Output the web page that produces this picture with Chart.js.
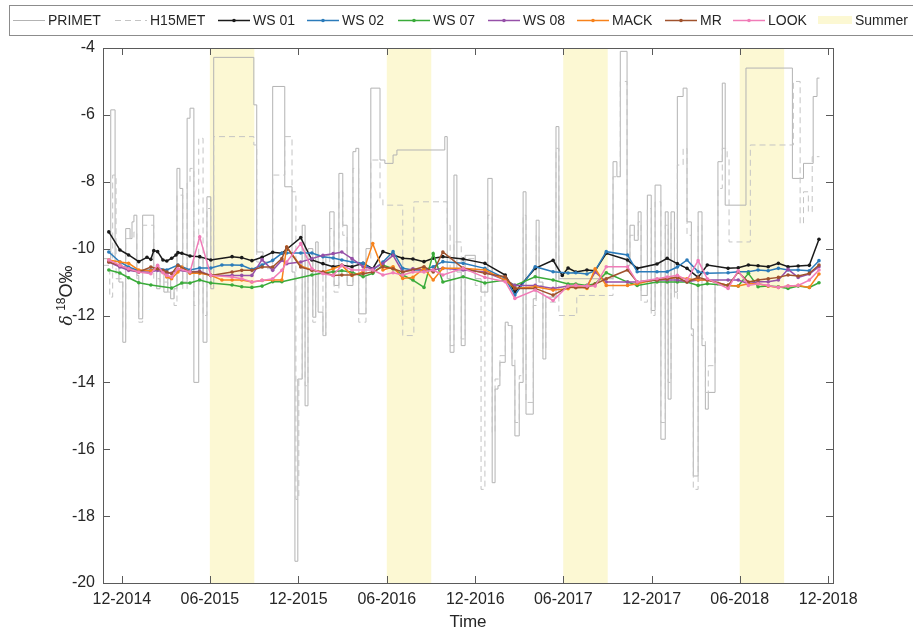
<!DOCTYPE html>
<html>
<head>
<meta charset="utf-8">
<title>Stream water isotopes</title>
<script src="https://cdn.jsdelivr.net/npm/chart.js@4.4.1/dist/chart.umd.min.js"></script>
<style>
  html, body { margin: 0; padding: 0; background: #fff; }
  #wrap { width: 913px; height: 633px; }
</style>
</head>
<body>
<div id="wrap"><canvas id="isoChart" width="913" height="633"></canvas></div>
<script>
// sampling dates shared by the stream stations (null = not sampled)
const sampleDates = [
  '2014-11-04','2014-11-27','2014-12-15','2015-01-05','2015-01-22','2015-01-30','2015-02-05','2015-02-13','2015-02-24','2015-03-04',
  '2015-03-14','2015-03-23','2015-03-27','2015-04-04','2015-04-21','2015-05-11','2015-06-03','2015-06-26','2015-07-17','2015-08-06',
  '2015-08-27','2015-09-17','2015-10-09','2015-10-28','2015-11-07','2015-12-06','2015-12-29','2016-01-21','2016-02-11','2016-02-29',
  '2016-03-21','2016-04-13','2016-05-03','2016-05-24','2016-06-14','2016-07-04','2016-07-25','2016-08-17','2016-09-05','2016-09-25',
  '2016-11-06','2016-12-21','2017-02-01','2017-02-21','2017-04-04','2017-05-11','2017-05-30','2017-06-11','2017-06-27','2017-07-20',
  '2017-08-06','2017-08-29','2017-10-12','2017-11-01','2017-12-12','2018-01-02','2018-01-23','2018-02-12','2018-03-07','2018-03-26',
  '2018-05-08','2018-05-29','2018-06-19','2018-07-09','2018-07-30','2018-08-20','2018-09-09','2018-09-30','2018-10-23','2018-11-12'
];

const ws01 = [
  -9.50,-10.04,-10.19,-10.39,-10.26,-10.32,-10.06,-10.09,-10.34,-10.37,
  -10.29,-10.19,-10.12,-10.14,-10.22,-10.24,-10.34,null,-10.24,-10.27,
  -10.36,-10.26,-10.11,-10.14,-10.02,-9.67,-10.34,-10.45,-10.54,-10.50,
  -10.54,-10.44,-10.60,-10.09,-10.19,-10.29,-10.31,-10.39,-10.29,-10.24,
  -10.31,-10.44,-10.79,-11.30,-10.59,-10.35,-10.80,-10.58,-10.70,-10.64,
  -10.66,-10.14,-10.34,-10.59,-10.46,-10.29,-10.45,-10.59,-10.86,-10.49,
  -10.59,-10.57,-10.49,-10.51,-10.54,-10.44,-10.54,-10.52,-10.50,-9.72
];
const ws02 = [
  -10.10,-10.40,-10.55,-10.66,null,-10.64,null,-10.58,null,-10.64,
  null,null,-10.49,null,-10.64,-10.58,-10.58,-10.49,-10.49,-10.50,
  -10.62,-10.49,-10.35,-10.14,-10.13,-10.13,-10.13,-10.24,-10.28,-10.34,
  -10.40,-10.44,-10.64,-10.40,-10.09,-10.59,-10.64,-10.64,-10.54,-10.39,
  -10.44,-10.59,-10.89,-11.39,-10.54,-10.69,null,-10.73,-10.72,-10.76,
  -10.66,-10.09,-10.19,-10.69,-10.69,-10.69,-10.55,-10.34,-10.69,-10.74,
  -10.72,-10.69,-10.69,-10.64,-10.66,-10.59,-10.64,-10.64,-10.66,-10.36
];
const ws07 = [
  -10.64,-10.73,-10.87,-11.02,null,-11.09,null,null,null,null,
  -11.18,null,null,-11.03,-11.03,-10.94,-11.03,null,-11.09,-11.14,
  -11.16,-11.12,-10.99,-10.99,null,null,-10.79,-10.73,-10.69,-10.66,
  -10.70,-10.84,-10.74,-10.49,-10.60,-10.79,-10.94,-11.16,-10.15,-11.00,
  -10.84,-11.03,-10.94,-11.10,-10.84,-10.94,null,-11.06,-11.06,-11.10,
  -11.05,-10.72,-11.00,-11.10,-11.00,-11.00,-11.00,-11.00,-11.10,-11.05,
  -11.10,-11.12,-10.74,-11.14,-11.12,-11.14,-11.19,-11.12,-11.16,-11.02
];
const ws08 = [
  -10.40,-10.55,-10.65,-10.70,null,-10.70,null,-10.65,null,-10.75,
  null,null,-10.65,null,-10.70,-10.68,-10.80,null,-10.80,-10.80,
  -10.80,-10.33,-10.65,-10.35,-10.45,-10.40,-10.30,-10.20,-10.15,-10.10,
  -10.30,-10.54,-10.60,-10.45,-10.20,-10.70,-10.60,-10.64,-10.64,-10.59,
  -10.64,-10.70,-10.94,-11.10,-11.10,-11.19,null,-11.12,-11.10,-11.12,
  -10.70,-11.00,-11.00,-11.00,-10.94,-10.94,-10.94,-10.99,-10.94,-10.94,
  -10.94,-10.94,-11.05,-10.99,-10.99,-10.94,-10.62,-10.86,-10.76,-10.54
];
const mack = [
  -10.34,-10.40,-10.44,-10.64,null,-10.66,null,-10.58,-10.70,-10.85,
  -10.90,null,-10.70,-10.55,-10.74,-10.74,-10.80,-10.94,-10.94,-10.94,
  -11.00,-10.95,-10.94,-10.94,-9.95,-10.52,-10.64,-10.70,-10.60,-10.50,
  -10.80,-10.70,-9.85,-10.64,-10.54,-10.89,-10.86,-10.59,-10.94,-10.59,
  -10.59,-10.64,-10.94,-11.19,-11.14,-11.24,null,-11.20,-11.10,-11.19,
  -10.60,-11.10,-11.10,-11.05,-10.92,-10.90,-10.86,-10.90,-10.94,-10.94,
  -11.10,-11.12,-11.05,-11.05,-11.12,-11.16,-11.12,-11.10,-11.16,-10.76
];
const mr = [
  -10.40,-10.50,-10.60,-10.70,null,-10.55,null,-10.60,-10.65,-10.70,
  -10.75,null,-10.50,null,-10.70,-10.70,-10.80,null,-10.70,-10.65,
  -10.65,-10.55,-10.55,-10.30,-9.95,-10.55,-10.65,-10.70,-10.80,-10.79,
  -10.79,-10.75,-10.70,-10.54,-10.60,-10.70,-10.64,-10.54,-10.70,-10.10,
  -10.59,-10.74,-10.84,-11.19,-11.19,-11.39,null,-11.15,-11.17,-11.16,
  -11.06,-10.90,-10.64,-11.00,-10.94,-10.90,-10.86,-11.00,-10.86,-10.94,
  -11.10,-10.70,-11.00,-10.94,-10.90,-10.86,-10.79,-10.82,-10.74,-10.49
];
const look = [
  -10.34,-10.50,-10.60,-10.70,null,-10.75,null,-10.50,-10.72,-10.80,
  -10.85,null,-10.60,null,-10.70,-9.65,-10.80,null,-10.85,-10.90,
  -11.00,-10.95,-10.90,-10.65,-10.40,-9.85,-10.60,-10.75,-10.80,-10.50,
  -10.64,-10.64,-10.64,-10.79,-10.72,-10.79,-10.70,-10.70,-10.64,-10.79,
  -10.59,-10.86,-10.99,-11.49,-11.24,-11.55,null,-11.12,-11.10,-11.12,
  -11.12,-10.54,-10.54,-11.00,-10.90,-10.85,-10.80,-10.94,-10.36,-10.90,
  -11.19,-10.66,-11.10,-11.05,-11.10,-11.16,-11.12,-11.10,-10.94,-10.64
];

// precipitation collectors: value holds from its date until the next date
const primetDates = [
  '2014-10-23','2014-11-08','2014-11-17','2014-11-25','2014-12-03','2014-12-09','2014-12-18','2014-12-22','2014-12-26','2015-01-01',
  '2015-01-05','2015-01-13','2015-02-05','2015-02-11','2015-02-18','2015-02-26','2015-03-06','2015-03-12','2015-03-19','2015-03-25',
  '2015-03-31','2015-04-06','2015-04-15','2015-04-21','2015-04-29','2015-05-09','2015-05-18','2015-05-26','2015-06-03','2015-06-09',
  '2015-08-31','2015-09-06','2015-09-19','2015-10-09','2015-11-03','2015-11-18','2015-11-24','2015-11-30','2015-12-09','2015-12-15',
  '2015-12-21','2015-12-31','2016-01-06','2016-01-11','2016-01-21','2016-01-27','2016-02-04','2016-02-13','2016-02-23','2016-03-02',
  '2016-03-11','2016-03-23','2016-03-29','2016-04-04','2016-04-19','2016-04-29','2016-05-18','2016-05-28','2016-06-14','2016-06-22',
  '2016-09-29','2016-10-04','2016-10-10','2016-10-18','2016-10-24','2016-11-02','2016-11-10','2016-12-01','2016-12-13','2016-12-27',
  '2017-01-05','2017-01-11','2017-01-17','2017-01-21','2017-02-01','2017-02-07','2017-02-15','2017-02-21','2017-03-02','2017-03-10',
  '2017-03-16','2017-03-31','2017-04-06','2017-04-12','2017-04-20','2017-04-26','2017-05-17','2017-05-23','2017-09-12','2017-09-20',
  '2017-09-27','2017-10-11','2017-10-17','2017-10-26','2017-11-03','2017-11-09','2017-11-22','2017-11-30','2017-12-08','2017-12-20',
  '2017-12-29','2018-01-04','2018-01-10','2018-01-17','2018-01-23','2018-02-04','2018-02-12','2018-02-21','2018-02-25','2018-03-07',
  '2018-03-15','2018-03-22','2018-03-28','2018-04-11','2018-04-17','2018-04-26','2018-05-02','2018-06-14','2018-09-18','2018-10-11',
  '2018-10-31','2018-11-08','2018-11-13'
];
const primetValues = [
  -10.3,-5.85,-10.5,-11.0,-12.8,-9.4,-9.7,-9.2,-9.0,-10.8,
  -12.1,-9.0,-10.6,-11.2,-10.7,-11.3,-10.9,-11.5,-11.2,-7.6,
  -8.2,-11.0,-6.1,-5.8,-14.0,-10.3,-12.8,-8.45,-11.2,-4.28,
  -5.7,-10.1,-10.4,-5.15,-8.15,-10.7,-19.35,-13.9,-9.3,-14.7,
  -10.0,-12.05,-9.8,-11.9,-12.6,-10.2,-8.9,-11.1,-7.75,-9.3,
  -11.1,-7.1,-7.0,-11.95,-10.0,-5.2,-7.35,-7.45,-7.2,-7.05,
  -6.65,-10.9,-13.1,-7.8,-10.7,-12.9,-10.2,-10.9,-11.3,-7.9,
  -17.0,-14.2,-14.1,-13.4,-12.2,-12.3,-13.5,-15.6,-14.0,-8.3,
  -14.95,-11.5,-9.15,-11.0,-13.3,-11.45,-6.35,-10.9,-7.4,-7.85,
  -4.1,-10.5,-9.3,-9.75,-8.9,-11.4,-8.4,-11.85,-8.1,-15.7,
  -8.9,-14.5,-8.9,-11.3,-5.45,-5.2,-9.2,-12.4,-16.8,-8.9,
  -12.9,-14.8,-14.3,-11.0,-7.4,-5.05,-8.7,-4.6,-7.9,-7.45,
  -5.45,-4.9,-4.9
];

const h15Dates = [
  '2014-10-23','2014-11-06','2014-11-12','2014-11-19','2014-12-03','2014-12-09','2014-12-26','2015-01-01','2015-01-05','2015-01-13',
  '2015-02-05','2015-02-18','2015-03-06','2015-03-19','2015-03-25','2015-04-06','2015-04-15','2015-04-21','2015-04-29','2015-05-09',
  '2015-05-18','2015-05-26','2015-06-03','2015-06-09','2015-08-31','2015-09-06','2015-09-19','2015-10-09','2015-11-03','2015-11-18',
  '2015-11-26','2015-12-02','2015-12-09','2015-12-15','2015-12-21','2015-12-31','2016-01-06','2016-01-21','2016-01-27','2016-02-04',
  '2016-02-13','2016-02-23','2016-03-02','2016-03-11','2016-03-23','2016-04-04','2016-04-19','2016-04-29','2016-05-18','2016-05-24',
  '2016-07-04','2016-07-27','2016-10-04','2016-10-10','2016-10-18','2016-11-02','2016-11-10','2016-12-01','2016-12-13','2016-12-21',
  '2016-12-27','2017-01-05','2017-01-11','2017-01-21','2017-02-01','2017-02-15','2017-02-21','2017-03-02','2017-03-10','2017-03-16',
  '2017-03-31','2017-04-06','2017-04-12','2017-04-20','2017-04-26','2017-05-17','2017-05-23','2017-06-29','2017-09-12','2017-09-27',
  '2017-10-11','2017-10-17','2017-11-03','2017-11-09','2017-11-22','2017-11-30','2017-12-08','2017-12-20','2017-12-29','2018-01-04',
  '2018-01-10','2018-01-17','2018-01-23','2018-02-04','2018-02-12','2018-02-21','2018-02-25','2018-03-07','2018-03-15','2018-03-22',
  '2018-03-28','2018-04-11','2018-04-17','2018-04-26','2018-05-06','2018-05-10','2018-06-23','2018-09-20','2018-10-04','2018-10-11',
  '2018-10-21','2018-10-29','2018-11-13'
];
const h15Values = [
  -10.5,-11.45,-7.8,-10.9,-12.4,-9.7,-9.5,-10.9,-12.2,-9.3,
  -10.9,-11.0,-11.3,-11.7,-8.4,-11.2,-8.0,-7.6,-11.7,-6.7,
  -12.0,-8.8,-11.0,-6.65,-6.9,-10.4,-10.6,-7.8,-6.65,-8.3,
  -17.5,-13.9,-9.8,-14.1,-10.3,-12.2,-10.2,-12.6,-10.5,-9.4,
  -11.3,-8.3,-9.6,-11.0,-7.6,-12.2,-10.3,-7.35,-8.5,-8.7,
  -12.6,-8.6,-9.3,-12.9,-9.8,-12.7,-10.3,-11.1,-17.2,-10.9,
  -9.0,-15.5,-13.9,-13.2,-12.3,-13.3,-15.2,-13.8,-9.0,-14.6,
  -11.7,-9.6,-11.1,-13.0,-11.6,-7.0,-12.0,-11.4,-7.85,-5.0,
  -10.4,-9.6,-9.2,-11.6,-8.8,-12.0,-8.6,-15.2,-9.3,-14.0,
  -9.2,-11.5,-7.5,-7.0,-9.6,-12.6,-17.2,-9.3,-12.7,-14.3,
  -13.5,-11.1,-8.2,-7.0,-7.3,-9.8,-6.9,-5.0,-9.25,-8.3,
  -8.9,-7.25,-7.25
];

const summerStart = ['2015-06-01', '2016-06-01', '2017-06-01', '2018-06-01'];
const summerEnd = ['2015-09-01', '2016-09-01', '2017-09-01', '2018-09-01'];

const tickDates = ['2014-12-01','2015-06-01','2015-12-01','2016-06-01','2016-12-01','2017-06-01','2017-12-01','2018-06-01','2018-12-01'];
const tickLabels = ['12-2014','06-2015','12-2015','06-2016','12-2016','06-2017','12-2017','06-2018','12-2018'];

const FAMILY = '"Liberation Sans", Arial, Helvetica, sans-serif';
const TEXT = '#262626';
const AXIS = '#5a5a5a';
const SUMMER_FILL = '#fcf8d3';

const toMs = d => Date.parse(d + 'T00:00:00Z');

function stationSet(name, values, color, order) {
  return {
    label: name,
    data: sampleDates.map((d, i) => ({ x: toMs(d), y: values[i] })),
    borderColor: color,
    backgroundColor: color,
    borderWidth: 1.5,
    pointRadius: 1.8,
    pointBorderWidth: 0,
    pointHoverRadius: 0,
    spanGaps: true,
    order: order
  };
}

function stepSet(name, dates, values, color, dash, order) {
  return {
    label: name,
    data: dates.map((d, i) => ({ x: toMs(d), y: values[i] })),
    borderColor: color,
    borderWidth: 1,
    borderDash: dash,
    pointRadius: 0,
    stepped: true,
    order: order
  };
}

const datasets = [
  stepSet('PRIMET', primetDates, primetValues, '#b3b3b3', [], 20),
  stepSet('H15MET', h15Dates, h15Values, '#c4c4c4', [6, 4], 19),
  stationSet('WS 01', ws01, '#1a1a1a', 7),
  stationSet('WS 02', ws02, '#2b7bba', 6),
  stationSet('WS 07', ws07, '#3aab3a', 5),
  stationSet('WS 08', ws08, '#9650a8', 4),
  stationSet('MACK', mack, '#f7821b', 3),
  stationSet('MR', mr, '#a0522d', 2),
  stationSet('LOOK', look, '#f07cb8', 1)
];

// legend entry positions (line start); text follows the sample
const legendX = [13, 115, 218, 307, 398, 488, 577, 665, 733, 818];

function drawLegend(chart) {
  const ctx = chart.ctx;
  const cy = 20;
  ctx.save();
  ctx.strokeStyle = '#8c8c8c';
  ctx.lineWidth = 1;
  ctx.fillStyle = '#fff';
  ctx.fillRect(9.5, 5.5, 920, 30);
  ctx.strokeRect(9.5, 5.5, 920, 30);
  ctx.font = '14px ' + FAMILY;
  ctx.textBaseline = 'middle';
  ctx.textAlign = 'left';

  chart.data.datasets.forEach((ds, i) => {
    const x0 = legendX[i];
    ctx.strokeStyle = ds.borderColor;
    ctx.lineWidth = ds.stepped ? 1 : 1.5;
    ctx.setLineDash(ds.borderDash || []);
    ctx.beginPath();
    ctx.moveTo(x0, cy + 0.5);
    ctx.lineTo(x0 + 32, cy + 0.5);
    ctx.stroke();
    ctx.setLineDash([]);
    if (!ds.stepped) {
      ctx.fillStyle = ds.borderColor;
      ctx.beginPath();
      ctx.arc(x0 + 16, cy + 0.5, 1.8, 0, Math.PI * 2);
      ctx.fill();
    }
    ctx.fillStyle = TEXT;
    ctx.fillText(ds.label, x0 + 35, cy + 1);
  });

  const sx = legendX[legendX.length - 1];
  ctx.fillStyle = SUMMER_FILL;
  ctx.fillRect(sx, cy - 4, 34, 8);
  ctx.fillStyle = TEXT;
  ctx.fillText('Summer', sx + 37, cy + 1);
  ctx.restore();
}

function drawYTitle(chart) {
  const { ctx, chartArea: a } = chart;
  const parts = [
    { t: 'δ', font: 'italic 17px "DejaVu Serif", serif', dy: 0 },
    { t: ' ', font: '16px ' + FAMILY, dy: 0 },
    { t: '18', font: '12px ' + FAMILY, dy: -7 },
    { t: 'O‰', font: '18px ' + FAMILY, dy: 0 }
  ];
  ctx.save();
  let total = 0;
  parts.forEach(p => { ctx.font = p.font; p.w = ctx.measureText(p.t).width; total += p.w; });
  ctx.translate(66, (a.top + a.bottom) / 2 - 20);
  ctx.rotate(-Math.PI / 2);
  ctx.fillStyle = TEXT;
  ctx.textBaseline = 'alphabetic';
  let x = -total / 2;
  parts.forEach(p => {
    ctx.font = p.font;
    ctx.fillText(p.t, x, 6 + p.dy);
    x += p.w;
  });
  ctx.restore();
}

const framePlugin = {
  id: 'frame',
  beforeDatasetsDraw(chart) {
    const { ctx, chartArea: a, scales: { x } } = chart;
    ctx.save();
    ctx.fillStyle = SUMMER_FILL;
    summerStart.forEach((s, i) => {
      const x0 = x.getPixelForValue(toMs(s));
      const x1 = x.getPixelForValue(toMs(summerEnd[i]));
      ctx.fillRect(x0, a.top, x1 - x0, a.bottom - a.top);
    });
    ctx.restore();
  },
  afterDatasetsDraw(chart) {
    const { ctx, chartArea: a, scales: { x, y } } = chart;
    const len = 7;
    ctx.save();
    ctx.strokeStyle = AXIS;
    ctx.lineWidth = 1;
    ctx.strokeRect(Math.round(a.left) + 0.5, Math.round(a.top) + 0.5,
      Math.round(a.right - a.left), Math.round(a.bottom - a.top));
    ctx.beginPath();
    x.ticks.forEach(t => {
      const px = Math.round(x.getPixelForValue(t.value)) + 0.5;
      ctx.moveTo(px, a.bottom); ctx.lineTo(px, a.bottom - len);
      ctx.moveTo(px, a.top); ctx.lineTo(px, a.top + len);
    });
    y.ticks.forEach(t => {
      const py = Math.round(y.getPixelForValue(t.value)) + 0.5;
      ctx.moveTo(a.left, py); ctx.lineTo(a.left + len, py);
      ctx.moveTo(a.right, py); ctx.lineTo(a.right - len, py);
    });
    ctx.stroke();
    ctx.restore();
  },
  afterDraw(chart) {
    drawLegend(chart);
    drawYTitle(chart);
  }
};

const ctx = document.getElementById('isoChart').getContext('2d');

new Chart(ctx, {
  type: 'line',
  data: { datasets: datasets },
  options: {
    responsive: false,
    animation: false,
    devicePixelRatio: 1,
    events: [],
    layout: { padding: { top: 48, right: 80, left: 0, bottom: 0 } },
    plugins: {
      legend: { display: false },
      tooltip: { enabled: false }
    },
    scales: {
      x: {
        type: 'linear',
        min: toMs('2014-10-23'),
        max: toMs('2018-12-11'),
        grid: { display: false, drawTicks: false },
        border: { display: false },
        afterBuildTicks: scale => {
          scale.ticks = tickDates.map(d => ({ value: toMs(d) }));
        },
        afterFit: scale => { scale.height = 50; },
        ticks: {
          autoSkip: false,
          maxRotation: 0,
          padding: 7,
          color: TEXT,
          font: { family: FAMILY, size: 16 },
          callback: (value, index) => tickLabels[index]
        },
        title: {
          display: true,
          text: 'Time',
          color: TEXT,
          font: { family: FAMILY, size: 17 },
          padding: { top: 0, bottom: 0 }
        }
      },
      y: {
        min: -20,
        max: -4,
        grid: { display: false, drawTicks: false },
        border: { display: false },
        afterFit: scale => { scale.width = 103; },
        ticks: {
          stepSize: 2,
          padding: 8,
          color: TEXT,
          font: { family: FAMILY, size: 16 },
          callback: value => String(value)
        }
      }
    }
  },
  plugins: [framePlugin]
});
</script>
</body>
</html>
